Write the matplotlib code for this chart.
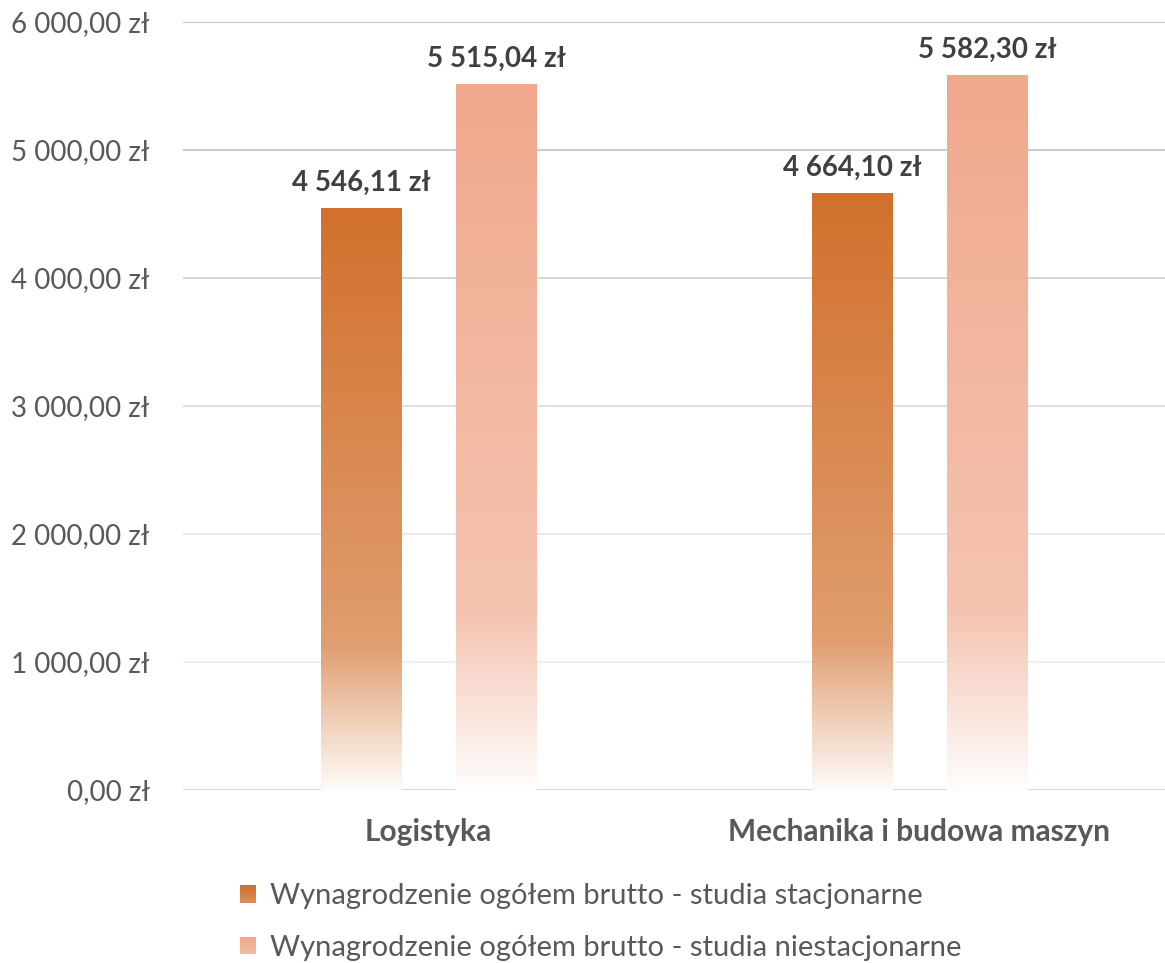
import matplotlib.pyplot as plt
from matplotlib.patches import Rectangle
from matplotlib.legend_handler import HandlerPatch
from matplotlib.colors import to_rgb
import numpy as np

plt.rcParams['font.family'] = ['Lato', 'DejaVu Sans']

categories = ['Logistyka', 'Mechanika i budowa maszyn']
stacjonarne = [4546.11, 4664.10]
niestacjonarne = [5515.04, 5582.30]
series_names = ['Wynagrodzenie ogółem brutto - studia stacjonarne',
                'Wynagrodzenie ogółem brutto - studia niestacjonarne']
colors = ['#D2702C', '#F0A88C']
yticks = [0, 1000, 2000, 3000, 4000, 5000, 6000]
grid_colors = ['#d9d9d9', '#f0f0f0', '#e8e8e8', '#e0e0e0', '#d6d6d6', '#cdcdcd', '#c6c6c6']


def fmt_pln(v):
    s = f"{v:,.2f}".replace(',', ' ').replace('.', ',')
    return s + ' zł'


def gradient_colors(color, t):
    # t = 0 at bottom, 1 at top; Excel-like gradient fading to white
    c = np.array(to_rgb(color))
    w = np.ones(3)
    stops_t = [0.0, 0.25, 1.0]
    stops_w = [0.97, 0.32, 0.0]
    wt = np.interp(t, stops_t, stops_w)
    return c[None, :] * (1 - wt[:, None]) + w[None, :] * wt[:, None]


class GradientHandler(HandlerPatch):
    def create_artists(self, legend, orig_handle, xdescent, ydescent,
                       width, height, fontsize, trans):
        color = orig_handle.get_facecolor()
        n = 8
        ts = np.linspace(0, 1, n)
        cols = gradient_colors(color, 0.55 + 0.45 * ts)
        arts = []
        for i in range(n):
            r = Rectangle((-xdescent, -ydescent + height * i / n), width, height / n,
                          facecolor=cols[i], edgecolor='none', transform=trans)
            arts.append(r)
        return arts


fig = plt.figure(figsize=(11.65, 9.63), dpi=100)
ax = fig.add_axes([0.157, 0.1797, 0.843, 0.7975])

x = np.arange(len(categories))
width = 0.163
offset = 0.1375

bars1 = ax.bar(x - offset, stacjonarne, width, color='none', edgecolor='none', zorder=3)
bars2 = ax.bar(x + offset, niestacjonarne, width, color='none', edgecolor='none', zorder=3)

t = np.linspace(0, 1, 256)
for bars, col in [(bars1, colors[0]), (bars2, colors[1])]:
    grad = gradient_colors(col, t)[::-1][:, None, :]
    for b in bars:
        x0, y0 = b.get_x(), b.get_y()
        im = ax.imshow(grad, extent=[x0, x0 + b.get_width(), y0, y0 + b.get_height()],
                       aspect='auto', interpolation='bilinear', zorder=3)
        im.set_clip_path(b)
    for b in bars:
        ax.annotate(fmt_pln(b.get_height()), (b.get_x() + b.get_width() / 2, b.get_height()),
                    xytext=(0, 9), textcoords='offset points', ha='center', va='bottom',
                    fontsize=20, fontweight='bold', color='#404040')

ax.set_xlim(-0.5, 1.5)
ax.set_ylim(0, 6000)
ax.set_yticks(yticks)
ax.set_yticklabels([fmt_pln(v) for v in yticks], fontsize=20, color='#595959')
ax.set_xticks(x)
ax.set_xticklabels(categories, fontsize=21.5, fontweight='bold', color='#595959')
ax.tick_params(axis='y', length=0, pad=24)
ax.tick_params(axis='x', length=0, pad=20)

ax.yaxis.grid(True, linewidth=1.5, zorder=0)
ax.set_axisbelow(True)
for gl, gc in zip(ax.get_ygridlines(), grid_colors):
    gl.set_color(gc)
for s in ax.spines.values():
    s.set_visible(False)

handles = [Rectangle((0, 0), 1, 1, facecolor=c) for c in colors]
fig.legend(handles, series_names, loc='upper left', bbox_to_anchor=(0.206, 0.083),
           frameon=False, fontsize=21, labelcolor='#595959',
           handlelength=0.55, handleheight=0.55, handletextpad=0.48, labelspacing=0.88,
           borderaxespad=0, borderpad=0,
           handler_map={Rectangle: GradientHandler()})

fig.savefig('out.png', dpi=100)
